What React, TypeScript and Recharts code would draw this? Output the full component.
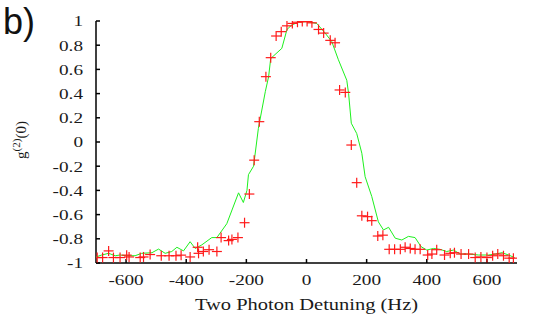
import React from 'react';
import { ScatterChart, Scatter, XAxis, YAxis } from 'recharts';

// measured g2(0) (red crosses)
const measX = [
  -696, -678, -658, -642, -620, -598, -590, -553, -542, -520, -483, -457, -434, -417, -387,
  -362, -359, -343, -324, -298, -284, -259, -248, -228, -206, -190, -174, -157, -135, -119,
  -101, -84, -65, -47, -30, -14, 2, 18, 40, 57, 79, 95, 110, 129, 149, 167, 184, 203, 217,
  237, 254, 275, 293, 312, 328, 345, 361, 378, 403, 417, 433, 459, 478, 492, 514, 539, 561,
  580, 600, 619, 636, 655, 674, 688,
];
const measY = [
  -0.955, -0.955, -0.9, -0.955, -0.955, -0.935, -0.95, -0.955, -0.95, -0.93, -0.94, -0.94, -0.94, -0.935, -0.95,
  -0.87, -0.92, -0.905, -0.89, -0.905, -0.79, -0.815, -0.805, -0.79, -0.667, -0.43, -0.15, 0.168, 0.54, 0.697,
  0.876, 0.912, 0.96, 0.98, 0.99, 0.995, 0.995, 0.985, 0.93, 0.9, 0.84, 0.82, 0.43, 0.41, -0.025, -0.336, -0.61, -0.617, -0.65,
  -0.777, -0.77, -0.887, -0.887, -0.887, -0.87, -0.88, -0.887, -0.887, -0.934, -0.926, -0.89, -0.934, -0.92, -0.915, -0.926, -0.926, -0.955,
  -0.95, -0.955, -0.94, -0.926, -0.94, -0.96, -0.96,
];

// theory curve (green line)
const simX = [
  -700, -681, -658, -636, -620, -598, -570, -548, -514, -492, -470, -448, -431, -409, -387,
  -370, -348, -315, -298, -265, -226, -210, -198, -193, -176, -160, -137, -126, -119, -82,
  -65, -49, -27, 0, 34, 62, 84, 106, 134, 140, 149, 167, 184, 195, 217, 239, 256, 273, 295,
  317, 339, 361, 381, 400, 422, 444, 466, 489, 511, 539, 572, 605, 628, 650, 672, 692,
];
const simY = [
  -0.95, -0.934, -0.92, -0.94, -0.934, -0.94, -0.94, -0.92, -0.915, -0.885, -0.92, -0.905, -0.87, -0.9, -0.824,
  -0.88, -0.85, -0.79, -0.79, -0.675, -0.42, -0.5, -0.4, -0.27, -0.2, 0.113, 0.416, 0.54, 0.69, 0.774,
  0.93, 0.967, 0.99, 0.995, 0.98, 0.9, 0.83, 0.68, 0.51, 0.4, 0.155, 0.07, -0.093, -0.287, -0.45, -0.66, -0.727, -0.705, -0.795,
  -0.81, -0.78, -0.79, -0.865, -0.893, -0.88, -0.887, -0.905, -0.893, -0.926, -0.926, -0.934, -0.934, -0.926, -0.915, -0.934, -0.955,
];

const xTicks = [-600, -400, -200, 0, 200, 400, 600];
const yTicks = [-1, -0.8, -0.6, -0.4, -0.2, 0, 0.2, 0.4, 0.6, 0.8, 1];

const measured = measX.map((x, i) => ({ x, y: measY[i] }));
const simulated = simX.map((x, i) => ({ x, y: simY[i] }));

const serifStyle = { fontFamily: "'Liberation Serif', 'Times New Roman', Times, serif" };
const STRETCH = 1.28;

const Plus = (props: any) => {
  const { cx, cy } = props;
  if (cx == null || cy == null) return <g />;
  return (
    <g stroke="#ff1a1a" strokeWidth={1.2}>
      <line x1={cx - 5} x2={cx + 5} y1={cy} y2={cy} />
      <line x1={cx} x2={cx} y1={cy - 5} y2={cy + 5} />
    </g>
  );
};

const YTick = (p: any) => (
  <text
    transform={`translate(${p.x},${p.y}) scale(${STRETCH},1)`}
    textAnchor="end"
    dy="0.36em"
    fontSize={15}
    style={serifStyle}
    fill="#1a1a1a"
  >
    {p.payload.value}
  </text>
);

const XTick = (p: any) => (
  <text
    transform={`translate(${p.x},${p.y}) scale(${STRETCH},1)`}
    textAnchor="middle"
    dy="0.72em"
    fontSize={15}
    style={serifStyle}
    fill="#1a1a1a"
  >
    {p.payload.value}
  </text>
);

const XTitle = (p: any) => {
  const { x, y, width } = p.viewBox;
  return (
    <text
      transform={`translate(${x + width / 2},${y + 47}) scale(${STRETCH},1)`}
      textAnchor="middle"
      fontSize={16}
      style={serifStyle}
      fill="#1a1a1a"
    >
      Two Photon Detuning (Hz)
    </text>
  );
};

const YTitle = (p: any) => {
  const { y, height } = p.viewBox;
  return (
    <text
      transform={`translate(26,${y + height / 2 - 2}) rotate(-90)`}
      textAnchor="middle"
      fontSize={15}
      style={serifStyle}
      fill="#1a1a1a"
    >
      g<tspan dy={-6} fontSize={11}>(2)</tspan>
      <tspan dy={6}>(0)</tspan>
    </text>
  );
};

export default function App() {
  return (
    <div style={{ position: 'absolute', left: 0, top: 0, width: 554, height: 319, background: '#fff' }}>
      <span
        style={{
          position: 'absolute',
          left: 3,
          top: 4,
          fontFamily: "'Liberation Sans', Arial, sans-serif",
          fontSize: 36,
          lineHeight: '36px',
          color: '#111',
        }}
      >
        b)
      </span>
      <ScatterChart width={554} height={319} margin={{ top: 21, right: 37, bottom: 16, left: 0 }}>
        <XAxis
          xAxisId="bottom"
          type="number"
          dataKey="x"
          domain={[-700, 700]}
          allowDataOverflow
          ticks={xTicks}
          height={40}
          tickSize={-4}
          tickMargin={15}
          tick={<XTick />}
          axisLine={{ stroke: '#000', strokeWidth: 1.5 }}
          tickLine={{ stroke: '#000', strokeWidth: 1.5 }}
          label={<XTitle />}
        />
        <XAxis
          xAxisId="top"
          orientation="top"
          type="number"
          dataKey="x"
          domain={[-700, 700]}
          allowDataOverflow
          ticks={xTicks}
          height={0}
          tickSize={-4}
          tick={false}
          axisLine={{ stroke: '#000', strokeWidth: 1.5 }}
          tickLine={{ stroke: '#000', strokeWidth: 1.5 }}
        />
        <YAxis
          yAxisId="left"
          type="number"
          dataKey="y"
          domain={[-1, 1]}
          allowDataOverflow
          ticks={yTicks}
          width={96}
          tickSize={-4}
          tickMargin={17}
          tick={<YTick />}
          axisLine={{ stroke: '#000', strokeWidth: 1.5 }}
          tickLine={{ stroke: '#000', strokeWidth: 1.5 }}
          label={<YTitle />}
        />
        <YAxis
          yAxisId="right"
          orientation="right"
          type="number"
          dataKey="y"
          domain={[-1, 1]}
          allowDataOverflow
          ticks={yTicks}
          width={0}
          tickSize={-4}
          tick={false}
          axisLine={{ stroke: '#000', strokeWidth: 1.5 }}
          tickLine={{ stroke: '#000', strokeWidth: 1.5 }}
        />
        <Scatter
          xAxisId="top"
          yAxisId="right"
          data={simulated}
          line={{ stroke: '#1ef01e', strokeWidth: 1 }}
          shape={() => <g />}
          isAnimationActive={false}
        />
        <Scatter
          xAxisId="bottom"
          yAxisId="left"
          data={measured}
          shape={<Plus />}
          isAnimationActive={false}
        />
      </ScatterChart>
    </div>
  );
}
